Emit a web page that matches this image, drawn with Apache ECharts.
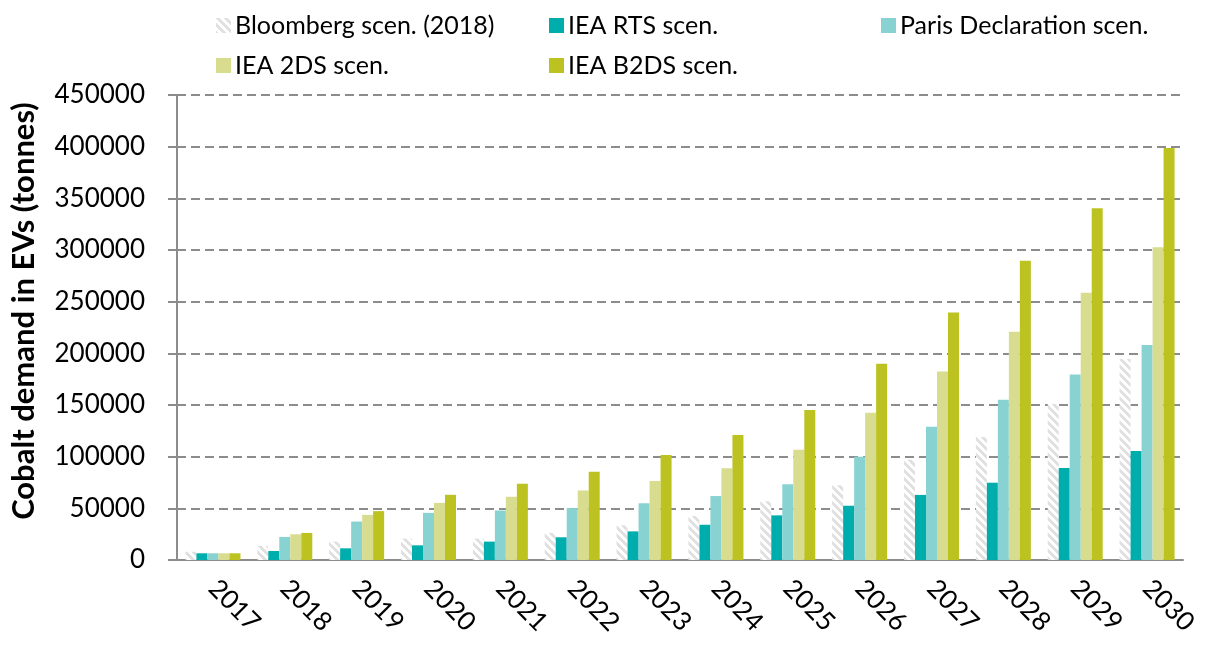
<!DOCTYPE html>
<html>
<head>
<meta charset="utf-8">
<script src="https://cdn.jsdelivr.net/npm/echarts/dist/echarts.min.js"></script>
<style>
  html, body { margin: 0; padding: 0; background: #fff; }
  #main { width: 1206px; height: 645px; }
</style>
</head>
<body>
<div id="main"></div>
<script>
  // data (tonnes)
  var years = ['2017', '2018', '2019', '2020', '2021', '2022', '2023', '2024', '2025', '2026', '2027', '2028', '2029', '2030'];
  var bloomberg = [8000, 13600, 17800, 20700, 20700, 26200, 33500, 42500, 56800, 72300, 97000, 119000, 151000, 194600];
  var ieaRts = [6500, 8700, 11300, 14200, 17800, 22000, 27700, 34100, 43200, 52500, 63000, 74800, 89000, 105500];
  var paris = [6500, 22300, 37200, 45600, 47900, 50200, 54900, 61900, 73300, 99800, 129000, 155200, 179400, 208100];
  var iea2ds = [6500, 24900, 43700, 55300, 61200, 67300, 76500, 88800, 106600, 142500, 182500, 221000, 258700, 302600];
  var ieaB2ds = [6500, 26200, 47300, 63100, 73800, 85400, 101700, 120900, 145100, 190000, 239500, 289700, 340400, 398800];
  var yTicks = { min: 0, max: 450000, interval: 50000 };

  var seriesNames = ['Bloomberg scen. (2018)', 'IEA RTS scen.', 'Paris Declaration scen.', 'IEA 2DS scen.', 'IEA B2DS scen.'];

  // hatch for the Bloomberg bars
  function hatch() {
    var c = document.createElement('canvas');
    c.width = 8; c.height = 8;
    var ctx = c.getContext('2d');
    ctx.fillStyle = '#ffffff';
    ctx.fillRect(0, 0, 8, 8);
    ctx.fillStyle = '#e0e0e0';
    for (var x = 0; x < 8; x++) {
      for (var y = 0; y < 8; y++) {
        if (((x - y) % 8 + 8) % 8 < 4) ctx.fillRect(x, y, 1, 1);
      }
    }
    return c;
  }

  var font = 'Lato, "Open Sans", sans-serif';
  var chart = echarts.init(document.getElementById('main'));

  function legendAt(name, left, top) {
    return {
      data: [name], left: left, top: top,
      itemWidth: 15, itemHeight: 15, itemGap: 0,
      icon: 'rect',
      textStyle: { fontFamily: font, fontSize: 25, color: '#000', padding: [0, 0, 0, -1] }
    };
  }

  var colors = [
    { image: hatch(), repeat: 'repeat' },
    '#00adad',
    '#88d2d2',
    '#d8dc8f',
    '#bcc320'
  ];
  var values = [bloomberg, ieaRts, paris, iea2ds, ieaB2ds];

  var option = {
    animation: false,
    textStyle: { fontFamily: font },
    legend: [
      legendAt(seriesNames[0], 211, 8),
      legendAt(seriesNames[1], 544, 8),
      legendAt(seriesNames[2], 876, 8),
      legendAt(seriesNames[3], 211, 48),
      legendAt(seriesNames[4], 544, 48)
    ],
    grid: { left: 177, right: 23, top: 95, bottom: 85 },
    xAxis: {
      type: 'category',
      data: years,
      axisLine: { lineStyle: { color: '#8c8c8c', width: 2 } },
      axisTick: { length: 9, lineStyle: { color: '#8c8c8c', width: 2 } },
      axisLabel: { rotate: -45, margin: 24, fontSize: 26, color: '#000', fontFamily: font }
    },
    yAxis: {
      type: 'value',
      min: yTicks.min, max: yTicks.max, interval: yTicks.interval,
      axisLine: { show: true, lineStyle: { color: '#8c8c8c', width: 2 } },
      axisTick: { show: true, length: 9, lineStyle: { color: '#8c8c8c', width: 2 } },
      axisLabel: {
        margin: 32, fontSize: 26, color: '#000', fontFamily: font,
        formatter: function (v) { return String(v); }
      },
      splitLine: { lineStyle: { color: '#8c8c8c', width: 2, type: [9, 5] } }
    },
    graphic: [{
      type: 'text',
      x: 24, y: 311,
      rotation: Math.PI / 2,
      style: {
        text: 'Cobalt demand in EVs (tonnes)',
        fontFamily: font, fontSize: 31, fontWeight: 'bold', fill: '#000',
        textAlign: 'center', textVerticalAlign: 'middle'
      }
    }],
    series: seriesNames.map(function (n, i) {
      return {
        name: n,
        type: 'bar',
        data: values[i],
        barWidth: 11,
        barGap: '0%',
        itemStyle: { color: colors[i] }
      };
    })
  };

  chart.setOption(option);
</script>
</body>
</html>
